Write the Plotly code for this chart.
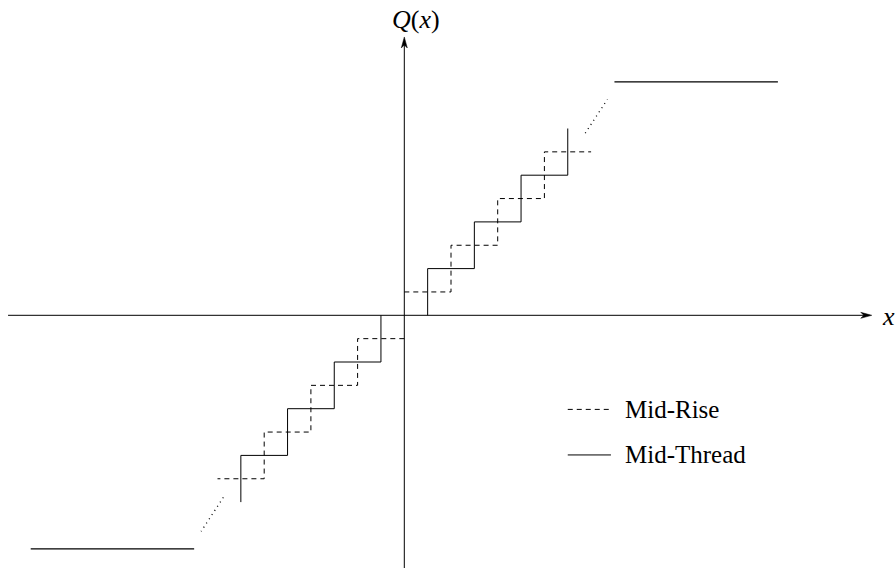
import plotly.graph_objects as go

# ---- data (units of half a quantisation step) ----
mid_thread_x = [1, 1, 3, 3, 5, 5, 7, 7, None, -1, -1, -3, -3, -5, -5, -7, -7]
mid_thread_y = [0, 2, 2, 4, 4, 6, 6, 8, None, 0, -2, -2, -4, -4, -6, -6, -8]

mid_rise_x = [0, 2, 2, 4, 4, 6, 6, 8, None, 0, -2, -2, -4, -4, -6, -6, -8]
mid_rise_y = [1, 1, 3, 3, 5, 5, 7, 7, None, -1, -1, -3, -3, -5, -5, -7, -7]

sat_x = [9, 16, None, -9, -16]
sat_y = [10, 10, None, -10, -10]

gap_x = [7.75, 8.7, None, -7.75, -8.7]
gap_y = [7.8, 9.25, None, -7.8, -9.25]

legend_labels = ["Mid-Rise", "Mid-Thread"]
legend_x = [7.0, 8.85]
legend_y = [-4.03, -5.98]

X_RANGE = [-17.315, 21.015]
Y_RANGE = [-10.822, 13.503]
X_AXIS = [-16.97, 20.02]
Y_AXIS = [-10.822, 11.92]

FONT = "Liberation Serif"
BLACK = "#000000"

fig = go.Figure()

fig.add_trace(go.Scatter(x=mid_rise_x, y=mid_rise_y, mode="lines",
                         line=dict(color=BLACK, width=1, dash="5px,4px"),
                         hoverinfo="skip", showlegend=False))
fig.add_trace(go.Scatter(x=mid_thread_x, y=mid_thread_y, mode="lines",
                         line=dict(color=BLACK, width=1),
                         hoverinfo="skip", showlegend=False))
fig.add_trace(go.Scatter(x=sat_x, y=sat_y, mode="lines",
                         line=dict(color=BLACK, width=1.2),
                         hoverinfo="skip", showlegend=False))
fig.add_trace(go.Scatter(x=gap_x, y=gap_y, mode="lines",
                         line=dict(color=BLACK, width=1.3, dash="1px,4px"),
                         hoverinfo="skip", showlegend=False))

# legend samples
fig.add_trace(go.Scatter(x=legend_x, y=[legend_y[0]] * 2, mode="lines",
                         line=dict(color=BLACK, width=1, dash="5px,4px"),
                         hoverinfo="skip", showlegend=False))
fig.add_trace(go.Scatter(x=legend_x, y=[legend_y[1]] * 2, mode="lines",
                         line=dict(color=BLACK, width=1),
                         hoverinfo="skip", showlegend=False))

shapes = [
    dict(type="line", xref="x", yref="y", x0=X_AXIS[0], x1=X_AXIS[1] - 0.3, y0=0, y1=0,
         line=dict(color=BLACK, width=1)),
    dict(type="line", xref="x", yref="y", x0=0, x1=0, y0=Y_AXIS[0], y1=Y_AXIS[1] - 0.3,
         line=dict(color=BLACK, width=1)),
    dict(type="path", xref="x", yref="y", xsizemode="pixel", ysizemode="pixel",
         xanchor=X_AXIS[1], yanchor=0,
         path="M0,0 L-11,3 L-8,0 L-11,-3 Z", fillcolor=BLACK, line=dict(color=BLACK, width=0.5)),
    dict(type="path", xref="x", yref="y", xsizemode="pixel", ysizemode="pixel",
         xanchor=0, yanchor=Y_AXIS[1],
         path="M0,0 L3,-11 L0,-8 L-3,-11 Z", fillcolor=BLACK, line=dict(color=BLACK, width=0.5)),
]

annotations = [
    dict(x=0.5, y=12.65, xref="x", yref="y", text="<i>Q</i>(<i>x</i>)", showarrow=False,
         font=dict(family=FONT, size=26, color=BLACK), xanchor="center", yanchor="middle"),
    dict(x=20.75, y=-0.06, xref="x", yref="y", text="<i>x</i>", showarrow=False,
         font=dict(family=FONT, size=26, color=BLACK), xanchor="center", yanchor="middle"),
]
for lab, yy in zip(legend_labels, legend_y):
    annotations.append(dict(x=9.37, y=yy, xref="x", yref="y", text=lab, showarrow=False,
                            font=dict(family=FONT, size=25, color=BLACK),
                            xanchor="left", yanchor="middle", yshift=0))

fig.update_layout(
    width=895, height=568, autosize=False,
    margin=dict(l=0, r=0, t=0, b=0, pad=0),
    paper_bgcolor="white", plot_bgcolor="white",
    font=dict(family=FONT),
    xaxis=dict(range=X_RANGE, visible=False, fixedrange=True),
    yaxis=dict(range=Y_RANGE, visible=False, fixedrange=True),
    shapes=shapes, annotations=annotations,
    showlegend=False,
)

fig.write_html("out.html", config={"displayModeBar": False})
